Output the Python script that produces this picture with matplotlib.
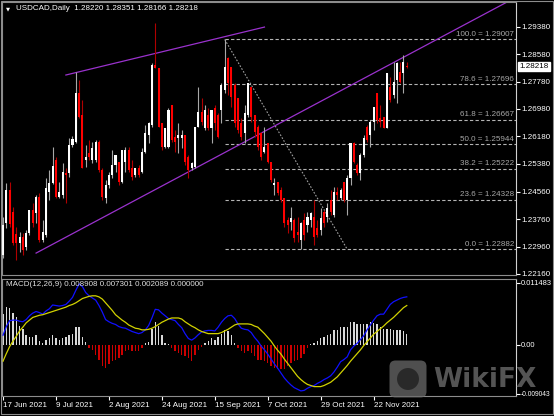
import matplotlib.pyplot as plt
import matplotlib.transforms as mtransforms
from matplotlib.patches import FancyBboxPatch, Rectangle, Circle
import numpy as np
import pandas as pd

plt.rcParams['font.family'] = ['Liberation Sans', 'DejaVu Sans']

# ---- data (USDCAD daily, 17 Jun 2021 onwards) ----
start_date = "2021-06-17"
header = "USDCAD,Daily  1.28220 1.28351 1.28166 1.28218"
macd_header = "MACD(12,26,9) 0.008908 0.007301 0.002089 0.000000"

opens = [1.2271, 1.2365, 1.2461, 1.2397, 1.2333, 1.2306, 1.2324, 1.2295, 1.2336, 1.2403,
         1.2394, 1.2441, 1.2315, 1.2330, 1.2455, 1.2482, 1.2549, 1.2441, 1.2447, 1.2511,
         1.2511, 1.2593, 1.2601, 1.2744, 1.2680, 1.2549, 1.2569, 1.2549, 1.2549, 1.2601,
         1.2520, 1.2438, 1.2476, 1.2505, 1.2534, 1.2543, 1.2485, 1.2543, 1.2578, 1.2525,
         1.2505, 1.2525, 1.2514, 1.2572, 1.2622, 1.2651, 1.2826, 1.2817, 1.2657, 1.2587,
         1.2587, 1.2709, 1.2616, 1.2613, 1.2613, 1.2622, 1.2558, 1.2525, 1.2528, 1.2645,
         1.2689, 1.2642, 1.2680, 1.2642, 1.2701, 1.2680, 1.2695, 1.2753, 1.2847, 1.2820,
         1.2768, 1.2730, 1.2657, 1.2628, 1.2680, 1.2762, 1.2680, 1.2645, 1.2628, 1.2572,
         1.2598, 1.2543, 1.2476, 1.2485, 1.2461, 1.2438, 1.2374, 1.2368, 1.2374, 1.2339,
         1.2315, 1.2374, 1.2359, 1.2374, 1.2382, 1.2350, 1.2344, 1.2397, 1.2382, 1.2432,
         1.2388, 1.2455, 1.2438, 1.2485, 1.2432, 1.2496, 1.2598, 1.2534, 1.2511, 1.2563,
         1.2645, 1.2622, 1.2660, 1.2744, 1.2671, 1.2674, 1.2642, 1.2762, 1.2739, 1.2782,
         1.2806, 1.2803, 1.28220]
highs = [1.2382, 1.2482, 1.2485, 1.2412, 1.2353, 1.2339, 1.2336, 1.2344, 1.2403, 1.2423,
         1.2447, 1.2452, 1.2374, 1.2496, 1.2520, 1.2587, 1.2558, 1.2485, 1.2540, 1.2525,
         1.2613, 1.2619, 1.2806, 1.2782, 1.2724, 1.2593, 1.2607, 1.2601, 1.2607, 1.2607,
         1.2525, 1.2490, 1.2514, 1.2578, 1.2563, 1.2543, 1.2578, 1.2587, 1.2587, 1.2549,
         1.2525, 1.2534, 1.2584, 1.2651, 1.2660, 1.2832, 1.2949, 1.2817, 1.2657, 1.2642,
         1.2701, 1.2709, 1.2636, 1.2657, 1.2636, 1.2622, 1.2563, 1.2543, 1.2645, 1.2762,
         1.2730, 1.2709, 1.2701, 1.2695, 1.2709, 1.2686, 1.2774, 1.29007, 1.2850, 1.2820,
         1.2774, 1.2730, 1.2671, 1.2709, 1.2774, 1.2762, 1.2680, 1.2651, 1.2631, 1.2645,
         1.2598, 1.2543, 1.2496, 1.2485, 1.2470, 1.2438, 1.2382, 1.2412, 1.2379, 1.2382,
         1.2368, 1.2394, 1.2397, 1.2397, 1.2432, 1.2374, 1.2409, 1.2403, 1.2423, 1.2461,
         1.2470, 1.2470, 1.2467, 1.2485, 1.2505, 1.2598, 1.2601, 1.2540, 1.2569, 1.2622,
         1.2651, 1.2666, 1.2704, 1.2744, 1.2709, 1.2674, 1.2803, 1.2791, 1.2835, 1.2835,
         1.2835, 1.2855, 1.28351]
lows = [1.2263, 1.2350, 1.2353, 1.2301, 1.2257, 1.2280, 1.2271, 1.2286, 1.2330, 1.2353,
        1.2365, 1.2309, 1.2309, 1.2324, 1.2432, 1.2479, 1.2438, 1.2438, 1.2438, 1.2423,
        1.2499, 1.2587, 1.2598, 1.2671, 1.2525, 1.2528, 1.2549, 1.2540, 1.2543, 1.2514,
        1.2432, 1.2423, 1.2467, 1.2496, 1.2514, 1.2476, 1.2482, 1.2514, 1.2514, 1.2490,
        1.2499, 1.2499, 1.2511, 1.2569, 1.2598, 1.2645, 1.2817, 1.2645, 1.2578, 1.2584,
        1.2584, 1.2601, 1.2572, 1.2569, 1.2584, 1.2534, 1.2496, 1.2520, 1.2525, 1.2645,
        1.2651, 1.2636, 1.2636, 1.2598, 1.2636, 1.2613, 1.2657, 1.2744, 1.2739, 1.2704,
        1.2645, 1.2628, 1.2607, 1.2598, 1.2674, 1.2660, 1.2616, 1.2578, 1.2549, 1.2569,
        1.2540, 1.2485, 1.2447, 1.2447, 1.2426, 1.2353, 1.2336, 1.2344, 1.2309, 1.2309,
        1.22882, 1.2315, 1.2339, 1.2353, 1.2301, 1.2324, 1.2330, 1.2353, 1.2368, 1.2388,
        1.2382, 1.2432, 1.2432, 1.2426, 1.2388, 1.2476, 1.2540, 1.2505, 1.2490, 1.2558,
        1.2601, 1.2587, 1.2636, 1.2657, 1.2645, 1.2642, 1.2642, 1.2718, 1.2730, 1.2715,
        1.2774, 1.2744, 1.28166]
closes = [1.2359, 1.2461, 1.2362, 1.2306, 1.2306, 1.2324, 1.2286, 1.2336, 1.2403, 1.2365,
          1.2441, 1.2315, 1.2339, 1.2467, 1.2482, 1.2531, 1.2441, 1.2455, 1.2514, 1.2505,
          1.2593, 1.2610, 1.2744, 1.2674, 1.2525, 1.2558, 1.2558, 1.2584, 1.2601, 1.2520,
          1.2441, 1.2476, 1.2505, 1.2534, 1.2563, 1.2485, 1.2578, 1.2578, 1.2520, 1.2499,
          1.2525, 1.2505, 1.2572, 1.2628, 1.2657, 1.2826, 1.2817, 1.2645, 1.2587, 1.2642,
          1.2695, 1.2607, 1.2601, 1.2622, 1.2622, 1.2543, 1.2520, 1.2540, 1.2645, 1.2689,
          1.2660, 1.2695, 1.2642, 1.2695, 1.2657, 1.2616, 1.2768, 1.2820, 1.2774, 1.2733,
          1.2657, 1.2636, 1.2616, 1.2686, 1.2774, 1.2674, 1.2631, 1.2587, 1.2558, 1.2587,
          1.2543, 1.2490, 1.2482, 1.2452, 1.2432, 1.2365, 1.2359, 1.2379, 1.2321, 1.2330,
          1.2365, 1.2330, 1.2382, 1.2394, 1.2324, 1.2330, 1.2379, 1.2365, 1.2409, 1.2397,
          1.2455, 1.2447, 1.2461, 1.2432, 1.2496, 1.2598, 1.2543, 1.2511, 1.2563, 1.2613,
          1.2607, 1.2660, 1.2704, 1.2666, 1.2660, 1.2642, 1.2803, 1.2724, 1.2777, 1.2832,
          1.2777, 1.2835, 1.28218]

macd_main = [0.0018, 0.0034, 0.0045, 0.0046, 0.0046, 0.0044, 0.0043, 0.0047, 0.0054, 0.0059,
             0.0062, 0.0060, 0.0057, 0.0063, 0.0067, 0.0074, 0.0073, 0.0072, 0.0073, 0.0075,
             0.0081, 0.0088, 0.0101, 0.0113, 0.0108, 0.0097, 0.0091, 0.0087, 0.0083, 0.0073,
             0.0061, 0.0047, 0.0043, 0.0040, 0.0038, 0.0034, 0.0032, 0.0031, 0.0028, 0.0025,
             0.0023, 0.0021, 0.0023, 0.0028, 0.0036, 0.0050, 0.0066, 0.0065, 0.0059, 0.0054,
             0.0049, 0.0047, 0.0045, 0.0038, 0.0032, 0.0021, 0.0012, 0.0009, 0.0013, 0.0019,
             0.0024, 0.0026, 0.0027, 0.0027, 0.0026, 0.0033, 0.0042, 0.0049, 0.0054, 0.0055,
             0.0049, 0.0039, 0.0031, 0.0029, 0.0028, 0.0023, 0.0014, 0.0007, -0.0002, -0.0009,
             -0.0017, -0.0026, -0.0035, -0.0043, -0.0052, -0.0061, -0.0068, -0.0074, -0.0079, -0.0082,
             -0.0085, -0.0084, -0.0080, -0.0077, -0.0075, -0.0071, -0.0068, -0.0064, -0.0061, -0.0057,
             -0.0050, -0.0041, -0.0031, -0.0027, -0.0022, -0.0009, -0.0002, 0.0003, 0.0010, 0.0017,
             0.0028, 0.0037, 0.0046, 0.0054, 0.0057, 0.0057, 0.0066, 0.0075, 0.0080, 0.0083,
             0.0086, 0.0088, 0.008908]
macd_signal = [-0.0030, -0.0016, -0.0003, 0.0007, 0.0016, 0.0026, 0.0033, 0.0041, 0.0046, 0.0051,
               0.0053, 0.0055, 0.0056, 0.0058, 0.0060, 0.0062, 0.0064, 0.0066, 0.0068, 0.0070,
               0.0073, 0.0075, 0.0078, 0.0082, 0.0086, 0.0088, 0.0090, 0.0091, 0.0091, 0.0089,
               0.0085, 0.0078, 0.0071, 0.0064, 0.0056, 0.0051, 0.0046, 0.0042, 0.0037, 0.0034,
               0.0031, 0.0030, 0.0028, 0.0028, 0.0029, 0.0031, 0.0034, 0.0038, 0.0042, 0.0045,
               0.0048, 0.0050, 0.0050, 0.0050, 0.0048, 0.0043, 0.0039, 0.0035, 0.0032, 0.0028,
               0.0025, 0.0023, 0.0021, 0.0021, 0.0021, 0.0021, 0.0023, 0.0026, 0.0029, 0.0033,
               0.0037, 0.0039, 0.0039, 0.0039, 0.0039, 0.0038, 0.0035, 0.0033, 0.0027, 0.0021,
               0.0014, 0.0007, -0.0002, -0.0010, -0.0017, -0.0026, -0.0034, -0.0042, -0.0050, -0.0058,
               -0.0064, -0.0069, -0.0073, -0.0075, -0.0077, -0.0077, -0.0077, -0.0075, -0.0072, -0.0069,
               -0.0064, -0.0059, -0.0052, -0.0045, -0.0038, -0.0030, -0.0023, -0.0016, -0.0009, -0.0001,
               0.0006, 0.0013, 0.0020, 0.0025, 0.0030, 0.0035, 0.0041, 0.0046, 0.0051, 0.0057,
               0.0063, 0.0069, 0.007301]
macd_hist = [0.0057, 0.0070, 0.0069, 0.0060, 0.0051, 0.0036, 0.0030, 0.0018, 0.0015, 0.0015,
             0.0018, 0.0007, 0.0004, 0.0009, 0.0012, 0.0018, 0.0012, 0.0010, 0.0012, 0.0014,
             0.0018, 0.0021, 0.0033, 0.0033, 0.0015, 0.0006, -0.0006, -0.0009, -0.0018, -0.0027,
             -0.0039, -0.0042, -0.0036, -0.0030, -0.0027, -0.0024, -0.0018, -0.0011, -0.0010, -0.0012,
             -0.0011, -0.0011, -0.0006, 0.0004, 0.0006, 0.0030, 0.0042, 0.0036, 0.0018, 0.0003,
             0.0002, -0.0006, -0.0011, -0.0015, -0.0018, -0.0021, -0.0024, -0.0030, -0.0018, -0.0009,
             -0.0003, 0.0004, 0.0007, 0.0012, 0.0009, 0.0015, 0.0021, 0.0027, 0.0026, 0.0018,
             0.0003, -0.0005, -0.0012, -0.0014, -0.0012, -0.0015, -0.0021, -0.0027, -0.0028, -0.0030,
             -0.0034, -0.0038, -0.0042, -0.0044, -0.0044, -0.0045, -0.0039, -0.0033, -0.0030, -0.0027,
             -0.0024, -0.0016, -0.0006, 0.0002, 0.0004, 0.0008, 0.0012, 0.0015, 0.0018, 0.0021,
             0.0027, 0.0028, 0.0033, 0.0033, 0.0034, 0.0042, 0.0043, 0.0039, 0.0038, 0.0039,
             0.0039, 0.0042, 0.0040, 0.0039, 0.0033, 0.0030, 0.0029, 0.0029, 0.0028, 0.0028,
             0.0027, 0.0026, 0.002089]

price_ticks = [1.29380, 1.28580, 1.27780, 1.26980, 1.26180, 1.25380, 1.24560, 1.23760, 1.22960, 1.22160]
macd_ticks = [0.011483, 0.0, -0.009043]
macd_tick_labels = ["0.011483", "0.00", "-0.009043"]

fib_levels = [0.0, 23.6, 38.2, 50.0, 61.8, 78.6, 100.0]
fib_prices = [1.22882, 1.24328, 1.25222, 1.25944, 1.26667, 1.27696, 1.29007]
fib_start_bar = 67          # bar of the 100% anchor
fib_end_bar = 104           # far end of the dotted anchor line
upper_trend = [(19, 1.2797), (79, 1.2937)]
lower_trend = [(10, 1.2277), (151.7, 1.3007)]

# ---- layout helpers (pixel boxes of the 554x416 picture) ----
W, H = 554, 416


def box(x0, y0, x1, y1):
    return [x0 / W, 1 - y1 / H, (x1 - x0) / W, (y1 - y0) / H]


fig = plt.figure(figsize=(W / 100, H / 100), dpi=100, facecolor='black')
ax = fig.add_axes(box(2, 2, 516, 275), facecolor='black')
ax2 = fig.add_axes(box(2, 279, 516, 396), facecolor='black', sharex=ax)

n = len(closes)
x = np.arange(n)
o, h, l, c = (np.array(v) for v in (opens, highs, lows, closes))
up = c > o
dn = ~up
xlim = (-0.3, 155.0)

# candles
ax.vlines(x[up], l[up], h[up], color='#a8a8a8', lw=0.8, zorder=3)
ax.vlines(x[dn], l[dn], h[dn], color='#b00000', lw=0.8, zorder=3)
body_lo = np.minimum(o, c)
body_h = np.maximum(np.abs(c - o), 0.00012)
ax.bar(x[up], body_h[up], bottom=body_lo[up], width=0.62, color='white', lw=0, zorder=4)
ax.bar(x[dn], body_h[dn], bottom=body_lo[dn], width=0.62, color='#ff0000', lw=0, zorder=4)

# fibonacci retracement
fib_col = '#b4b4b4'
ax.hlines(fib_prices, fib_start_bar, xlim[1], colors=fib_col, lw=0.8,
          linestyles=[(0, (3, 2))], zorder=2)
ax.plot([fib_start_bar, fib_end_bar], [fib_prices[-1], fib_prices[0]], color='#a0a0a0',
        lw=0.8, ls=(0, (1.5, 1.5)), zorder=2)
tr = mtransforms.blended_transform_factory(ax.transAxes, ax.transData)
for lvl, p in zip(fib_levels, fib_prices):
    ax.annotate(f"{lvl:.1f} = {p:.5f}", (0.996, p), xycoords=tr, xytext=(0, 1.2),
                textcoords='offset points', ha='right', va='bottom', fontsize=5.8,
                color='#a8a8a8', zorder=5)

# trend lines
purple = '#9a32cd'
(ux0, uy0), (ux1, uy1) = upper_trend
ax.plot([ux0, ux1], [uy0, uy1], color=purple, lw=0.9, zorder=2)
(lx0, ly0), (lx1, ly1) = lower_trend
slope = (ly1 - ly0) / (lx1 - lx0)
ax.plot([lx0, xlim[1]], [ly0, ly0 + slope * (xlim[1] - lx0)], color=purple, lw=0.9, zorder=2)

ax.set_xlim(*xlim)
ax.set_ylim(1.22130, 1.30102)
ax.yaxis.tick_right()
ax.set_yticks(price_ticks)
ax.set_yticklabels([f"{v:.5f}" for v in price_ticks])
ax.tick_params(axis='y', colors='white', labelsize=5.8, length=3, width=0.8, pad=0.8)
ax.tick_params(axis='x', bottom=False, labelbottom=False)

# last price box
ax.annotate(f"{closes[-1]:.5f}", (1.0, closes[-1]), xycoords=tr, xytext=(2.2, 0),
            textcoords='offset points', ha='left', va='center', fontsize=5.8, color='black',
            bbox=dict(boxstyle='square,pad=0.18', fc='white', ec='white'), annotation_clip=False)

# MACD panel
pos = np.array(macd_hist) >= 0
hist = np.array(macd_hist)
ax2.bar(x[pos], hist[pos], width=0.42, color='#d8d8d8', lw=0, zorder=2)
ax2.bar(x[~pos], hist[~pos], width=0.42, color='#cc0000', lw=0, zorder=2)
ax2.plot(x, macd_main, color='#1010ff', lw=0.9, zorder=3)
ax2.plot(x, macd_signal, color='#d2d200', lw=0.9, zorder=3)
ax2.set_ylim(-0.00944, 0.01221)
ax2.yaxis.tick_right()
ax2.set_yticks(macd_ticks)
ax2.set_yticklabels(macd_tick_labels)
ax2.tick_params(axis='y', colors='white', labelsize=5.4, length=3, width=0.8, pad=0.4)
ax2.get_yticklabels()[-1].set_fontsize(4.8)

dates = pd.bdate_range(start_date, periods=n)
tick_idx = list(range(0, n, 16))
ax2.set_xticks(tick_idx)
ax2.set_xticklabels([f"{dates[i].day} {dates[i]:%b %Y}" for i in tick_idx])
for lab in ax2.get_xticklabels():
    lab.set_horizontalalignment('left')
ax2.tick_params(axis='x', colors='white', labelsize=5.8, length=3, width=0.8, pad=1.5)
ax2.text(0.008, 0.955, macd_header, transform=ax2.transAxes, ha='left', va='center',
         fontsize=5.8, color='#e0e0e0')

for a in (ax, ax2):
    for side in ('left', 'top', 'bottom'):
        a.spines[side].set_color('#8c8c8c')
        a.spines[side].set_linewidth(0.8)
    a.spines['right'].set_color('#d0d0d0')
    a.spines['right'].set_linewidth(0.8)

# overlay in pixel coordinates: header, outer frame, watermark
ov = fig.add_axes([0, 0, 1, 1])
ov.set_xlim(0, W)
ov.set_ylim(H, 0)
ov.axis('off')
ov.patch.set_alpha(0)
ov.text(8, 8.5, '▼', fontsize=3.8, color='white', ha='center', va='center', family='DejaVu Sans')
ov.text(16, 8.5, header, fontsize=5.8, color='white', ha='left', va='center')
ov.add_patch(Rectangle((0.5, 0.5), W - 2, 413, fill=False, ec='#8c8c8c', lw=0.8))
ov.add_patch(FancyBboxPatch((391, 362), 34, 34, boxstyle='round,pad=1.5,rounding_size=6',
                            fc='#6a6a6a', ec='none', alpha=0.75))
ov.add_patch(Circle((408, 379), 11, fc='#1a1a1a', ec='none', alpha=0.7))
ov.text(433, 380, 'WikiFX', fontsize=19, fontweight='bold', color='#6a6a6a', alpha=0.8,
        ha='left', va='center', family='DejaVu Sans')

fig.savefig('out.png', dpi=100, facecolor='black')
